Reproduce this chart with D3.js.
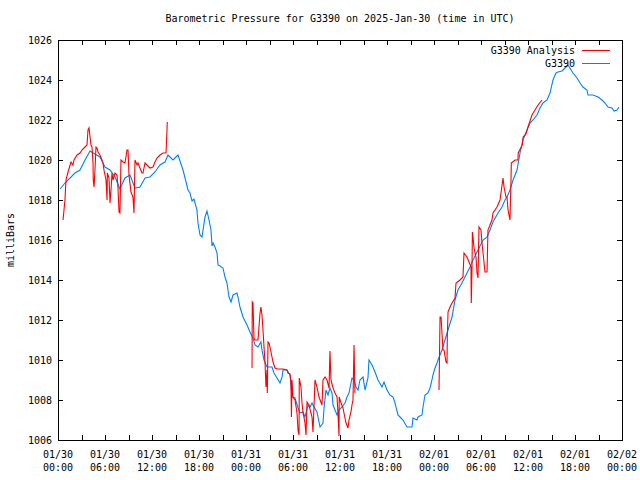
<!DOCTYPE html>
<html><head><meta charset="utf-8">
<script src="https://cdn.jsdelivr.net/npm/d3@7/dist/d3.min.js"></script>
<style>body{margin:0;background:#fff}svg{display:block}text{font-family:"DejaVu Sans Mono",monospace;font-size:10px;fill:#000}</style>
</head><body><svg id="c" width="640" height="480"></svg>
<script>
const title = "Barometric Pressure for G3390 on 2025-Jan-30 (time in UTC)";
const yLabel = "milliBars";
const seriesNames = ["G3390 Analysis", "G3390"];
const yTicks = [1006,1008,1010,1012,1014,1016,1018,1020,1022,1024,1026];
const xTickHours = [0,6,12,18,24,30,36,42,48,54,60,66,72];
const xTickDates = ["01/30","01/30","01/30","01/30","01/31","01/31","01/31","01/31","02/01","02/01","02/01","02/01","02/02"];
const xTickTimes = ["00:00","06:00","12:00","18:00","00:00","06:00","12:00","18:00","00:00","06:00","12:00","18:00","00:00"];
// hours since 2025-01-30 00:00 UTC
const stationHours = [0.26,0.89,2.17,2.81,3.45,4.09,4.72,5.36,6.0,6.64,7.28,7.91,8.55,9.19,9.83,10.47,11.11,11.74,12.38,13.02,13.66,14.04,14.68,15.32,15.96,16.6,16.85,17.11,17.36,17.74,17.87,18.13,18.38,18.77,19.02,19.28,19.53,19.66,19.79,20.04,20.3,20.43,20.68,21.06,21.32,21.57,21.83,22.09,22.34,22.85,22.98,23.23,23.62,24.13,24.51,24.89,25.15,25.53,25.91,26.04,26.3,26.68,27.32,27.57,27.96,28.34,28.6,28.72,29.23,29.62,29.87,30.26,30.64,30.89,31.28,31.53,31.91,32.17,32.43,32.55,33.06,33.45,33.83,33.96,34.21,34.47,34.72,34.98,35.11,35.36,35.62,35.87,36.26,36.64,36.89,37.15,37.53,37.79,38.04,38.3,38.55,38.94,39.19,39.57,39.7,40.09,40.47,40.85,41.36,41.62,42.0,42.38,42.77,43.02,43.4,43.66,44.04,44.55,45.19,45.32,45.83,45.96,46.47,46.6,46.85,47.23,47.49,47.74,47.87,48.13,48.38,48.51,49.02,49.4,49.79,50.3,50.68,51.06,51.57,52.21,52.6,52.98,53.62,54.26,54.77,55.15,55.53,56.17,56.68,57.06,57.32,57.7,58.09,58.6,58.98,59.36,59.87,60.26,60.64,61.15,61.53,61.91,62.43,62.81,63.19,63.57,63.83,64.34,64.72,65.11,65.36,65.74,66.26,66.64,67.02,67.53,67.66,68.3,68.94,69.45,69.83,70.21,70.72,70.98,71.36,71.62];
const stationPressure = [1018.55,1018.85,1019.35,1019.5,1020.0,1020.45,1020.3,1020.15,1019.65,1019.5,1019.15,1018.55,1019.1,1019.25,1018.6,1018.65,1019.1,1019.15,1019.4,1019.75,1019.9,1020.25,1020.0,1020.25,1019.5,1018.5,1018.35,1017.95,1018.05,1017.5,1016.85,1016.25,1016.15,1017.15,1017.45,1017.0,1016.5,1015.7,1015.85,1015.65,1015.35,1014.75,1014.7,1014.6,1014.15,1013.85,1013.15,1012.9,1013.25,1013.35,1013.15,1012.65,1012.15,1011.75,1011.4,1011.1,1010.75,1010.65,1010.9,1010.5,1010.0,1009.65,1009.65,1009.35,1009.1,1008.85,1009.15,1009.5,1009.5,1009.25,1008.15,1008.1,1007.6,1007.35,1007.4,1007.15,1007.75,1007.65,1007.85,1007.75,1007.4,1006.65,1006.85,1007.6,1008.5,1008.25,1008.6,1008.35,1007.75,1007.5,1007.25,1007.5,1007.65,1007.85,1008.15,1008.35,1009.1,1009.0,1008.65,1008.5,1009.0,1009.15,1008.5,1009.1,1010.0,1009.75,1009.4,1009.0,1008.65,1008.9,1008.5,1008.25,1008.15,1007.85,1007.25,1007.15,1007.0,1006.65,1006.65,1007.1,1007.0,1007.15,1007.25,1007.65,1008.25,1008.35,1008.6,1009.0,1009.25,1009.6,1009.85,1010.0,1010.5,1011.0,1011.5,1012.15,1013.0,1013.5,1013.85,1014.35,1014.65,1015.0,1015.5,1016.0,1016.15,1016.5,1016.9,1017.35,1017.65,1018.0,1018.15,1018.5,1019.0,1019.5,1020.35,1021.0,1021.5,1021.85,1022.0,1022.25,1022.6,1022.85,1023.0,1023.35,1024.0,1024.35,1024.4,1024.45,1024.6,1024.75,1024.6,1024.35,1024.1,1023.85,1023.65,1023.5,1023.25,1023.25,1023.15,1023.0,1022.85,1022.65,1022.6,1022.45,1022.5,1022.65];
// null marks a gap in the analysis series
const analysisHours = [0.64,0.89,1.02,1.28,1.66,1.91,2.04,2.43,2.81,3.06,3.45,3.7,3.83,3.96,4.09,4.21,4.34,4.47,4.5,4.6,4.72,4.85,4.98,5.11,5.36,5.62,5.74,5.87,6.13,6.26,6.3,6.51,6.64,6.77,6.89,7.02,7.28,7.53,7.66,7.79,7.91,8.04,8.3,8.55,8.81,8.94,9.06,9.32,9.57,9.7,9.83,10.09,10.21,10.72,10.85,11.11,11.36,11.74,12.13,12.38,12.64,13.02,13.4,13.79,13.9,13.95,
 null,
 24.77,24.8,24.89,25.02,25.15,25.53,25.79,25.91,26.04,26.17,26.3,26.43,26.55,26.68,26.72,26.81,26.94,27.19,27.45,27.7,27.96,28.72,29.23,29.36,29.62,29.74,29.8,29.87,30.0,30.26,30.51,30.64,30.77,30.8,31.02,31.15,31.28,31.4,31.53,31.66,31.79,32.04,32.43,32.55,32.68,32.81,33.06,33.32,33.7,33.83,34.09,34.34,34.6,34.72,34.85,35.11,35.36,35.62,35.74,35.87,35.9,36.13,36.38,36.51,36.77,37.02,37.15,37.4,37.53,37.66,37.79,37.91,
 null,
 48.64,48.77,48.9,49.02,49.15,49.28,49.53,49.66,49.7,49.79,50.04,50.3,50.68,50.81,51.32,51.7,51.83,52.21,52.47,52.72,52.76,52.85,52.9,52.98,53.11,53.36,53.49,53.62,53.74,54.0,54.13,54.26,54.51,54.77,54.89,55.15,55.4,55.53,56.04,56.43,56.81,56.94,57.19,57.32,57.45,57.7,57.83,57.87,58.34,58.72,58.75,59.26,59.38,59.74,60.0,60.51,60.89,61.28,61.79];
const analysisPressure = [1017.0,1018.0,1019.0,1019.4,1019.9,1019.75,1020.0,1020.25,1020.35,1020.5,1020.65,1020.75,1021.5,1021.6,1021.15,1020.75,1020.65,1019.85,1019.0,1018.65,1019.5,1020.65,1020.6,1020.4,1020.25,1020.0,1019.85,1019.5,1019.0,1018.0,1019.35,1019.1,1017.85,1018.5,1019.35,1019.0,1019.35,1019.25,1018.6,1017.4,1017.35,1020.0,1019.9,1019.85,1020.5,1020.5,1019.25,1018.4,1018.15,1017.35,1020.0,1019.75,1019.85,1019.35,1019.35,1019.85,1019.75,1019.6,1019.65,1019.9,1020.1,1020.25,1020.35,1020.35,1021.35,1021.9,
 null,
 1009.6,1012.9,1012.85,1011.1,1011.0,1011.0,1012.35,1012.65,1012.25,1011.5,1010.65,1009.85,1008.65,1009.5,1008.35,1010.9,1010.85,1010.4,1009.9,1009.6,1009.55,1009.55,1009.5,1009.35,1009.3,1008.9,1007.15,1009.0,1008.15,1008.0,1007.35,1006.5,1006.25,1009.1,1008.65,1007.85,1007.35,1007.15,1006.85,1006.25,1007.9,1007.75,1007.15,1006.4,1007.65,1009.0,1008.65,1008.15,1007.75,1009.0,1009.15,1009.0,1008.6,1010.45,1009.0,1008.6,1008.35,1008.15,1007.35,1006.2,1008.15,1007.85,1007.6,1007.35,1006.85,1006.6,1007.0,1007.4,1007.75,1008.0,1010.75,1008.35,
 null,
 1008.5,1012.15,1012.15,1011.35,1010.5,1010.5,1009.9,1009.85,1011.15,1012.4,1012.65,1012.85,1013.1,1013.85,1014.0,1014.15,1015.35,1015.15,1014.9,1014.65,1012.85,1014.5,1016.4,1016.15,1015.6,1015.15,1014.35,1014.1,1016.65,1016.5,1015.85,1015.35,1014.4,1014.4,1016.5,1016.75,1017.0,1017.35,1017.65,1018.0,1019.1,1018.65,1018.15,1018.15,1017.5,1017.0,1019.0,1019.85,1020.0,1020.0,1020.35,1020.75,1021.15,1021.3,1021.65,1022.25,1022.5,1022.75,1023.0];

const t0 = Date.UTC(2025,0,30,0,0);
const toDate = h => new Date(t0 + h*3600e3);
const L = 58, R = 622, T = 40, B = 440;
const svg = d3.select("#c");
const x = d3.scaleUtc().domain([toDate(0), toDate(72)]).range([L, R]);
const y = d3.scaleLinear().domain([1006, 1026]).range([B, T]);

const stationData = stationHours.map((h,i)=>({t:toDate(h), v:stationPressure[i]}));
const analysisData = analysisHours.map((h,i)=>(h==null ? null : {t:toDate(h), v:analysisPressure[i]}));

svg.append("clipPath").attr("id","pc").append("rect").attr("x",L).attr("y",T).attr("width",R-L).attr("height",B-T);

const line = d3.line().defined(d=>d!=null).x(d=>x(d.t)).y(d=>y(d.v));
const plotG = svg.append("g").attr("clip-path","url(#pc)");
plotG.append("path").datum(stationData).attr("d",line).attr("fill","none").attr("stroke","#0080ff").attr("stroke-width",1.1);
plotG.append("path").datum(analysisData).attr("d",line).attr("fill","none").attr("stroke","#ff0000").attr("stroke-width",1.1);

// axes (ticks inward, mirrored)
const tickLen = 5;
const xTickVals = d3.range(0,73,3).map(toDate);
const axB = svg.append("g").attr("transform",`translate(0,${B})`)
  .call(d3.axisBottom(x).tickValues(xTickVals).tickSizeInner(-tickLen).tickSizeOuter(0).tickFormat(""));
const axT = svg.append("g").attr("transform",`translate(0,${T})`)
  .call(d3.axisTop(x).tickValues(xTickVals).tickSizeInner(-tickLen).tickSizeOuter(0).tickFormat(""));
const axL = svg.append("g").attr("transform",`translate(${L},0)`)
  .call(d3.axisLeft(y).tickValues(yTicks).tickSizeInner(-tickLen).tickSizeOuter(0).tickFormat(d3.format("d")));
const axR = svg.append("g").attr("transform",`translate(${R},0)`)
  .call(d3.axisRight(y).tickValues(yTicks).tickSizeInner(-tickLen).tickSizeOuter(0).tickFormat(""));
[axB,axT,axL,axR].forEach(a=>{
  a.selectAll("path.domain").remove();
  a.selectAll("line").attr("stroke","#000").attr("shape-rendering","crispEdges");
});
axL.selectAll("text").attr("font-family","DejaVu Sans Mono").attr("font-size",10).attr("fill","#000").attr("x",-6);
svg.append("rect").attr("x",L+0.5).attr("y",T+0.5).attr("width",R-L).attr("height",B-T)
  .attr("fill","none").attr("stroke","#000").attr("shape-rendering","crispEdges");

// x labels
const xl = svg.append("g");
xTickHours.forEach((h,i)=>{
  xl.append("text").attr("x",x(toDate(h))).attr("y",458).attr("text-anchor","middle").text(xTickDates[i]);
  xl.append("text").attr("x",x(toDate(h))).attr("y",471).attr("text-anchor","middle").text(xTickTimes[i]);
});

svg.append("text").attr("x",(L+R)/2).attr("y",22).attr("text-anchor","middle").text(title);
svg.append("text").attr("transform","translate(14,240) rotate(-90)").attr("text-anchor","middle").text(yLabel);

// legend
const colors = ["#ff0000","#0080ff"];
seriesNames.forEach((n,i)=>{
  const yy = 50 + i*13;
  svg.append("text").attr("x",575).attr("y",yy+3.5).attr("text-anchor","end").text(n);
  svg.append("line").attr("x1",582).attr("x2",610).attr("y1",yy+0.5).attr("y2",yy+0.5).attr("stroke",colors[i]).attr("stroke-width",1.2).attr("shape-rendering","crispEdges");
});
</script></body></html>
